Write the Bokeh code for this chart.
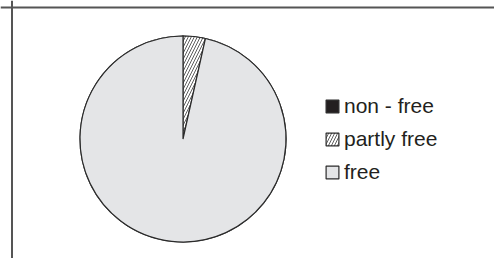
import math
from bokeh.plotting import figure
from bokeh.models import ColumnDataSource, Range1d, Span, Legend, LegendItem
from bokeh.embed import file_html
from bokeh.resources import INLINE

# data
categories = ["non - free", "partly free", "free"]
shares = [0.0, 3.5, 96.5]
fill_colors = ["#231f20", "#ffffff", "#e4e5e7"]
hatches = [" ", "/", " "]

total = sum(shares)
starts, ends = [], []
acc = 0.0
for s in shares:
    starts.append(math.pi / 2 - acc / total * 2 * math.pi)
    acc += s
    ends.append(math.pi / 2 - acc / total * 2 * math.pi)

src = ColumnDataSource(dict(cat=categories, val=shares, start=starts, end=ends,
                            color=fill_colors, hatch=hatches))

W, H = 494, 258
p = figure(width=W, height=H, output_backend="svg", toolbar_location=None,
           x_range=Range1d(0, W), y_range=Range1d(0, H),
           min_border_left=0, min_border_right=0, min_border_top=0, min_border_bottom=0)
p.axis.visible = False
p.grid.visible = False
p.outline_line_color = None
p.background_fill_color = "white"

cx, cy, r = 182.5, 119.5, 103
rend = p.wedge(x=cx, y=cy, radius=r, start_angle="start", end_angle="end",
               direction="clock", source=src, fill_color="color",
               line_color="#2b2b2b", line_width=1.2,
               hatch_pattern="hatch", hatch_color="#333333",
               hatch_scale=6, hatch_weight=0.8)

# frame lines (top and left)
p.add_layout(Span(location=H - 7, dimension="width", line_color="#555555", line_width=2))
p.add_layout(Span(location=11.5, dimension="height", line_color="#555555", line_width=2))

items = [LegendItem(label=c, renderers=[rend], index=i) for i, c in enumerate(categories)]
legend = Legend(items=items, location=(324, 74), padding=0, margin=0,
                border_line_color=None, background_fill_alpha=0,
                glyph_width=16, glyph_height=16, label_standoff=4, spacing=9,
                label_text_font="Liberation Sans", label_text_font_size="21px",
                label_text_color="#231f20", label_height=20)
p.add_layout(legend)

open("out.html", "w").write(file_html(p, INLINE))
